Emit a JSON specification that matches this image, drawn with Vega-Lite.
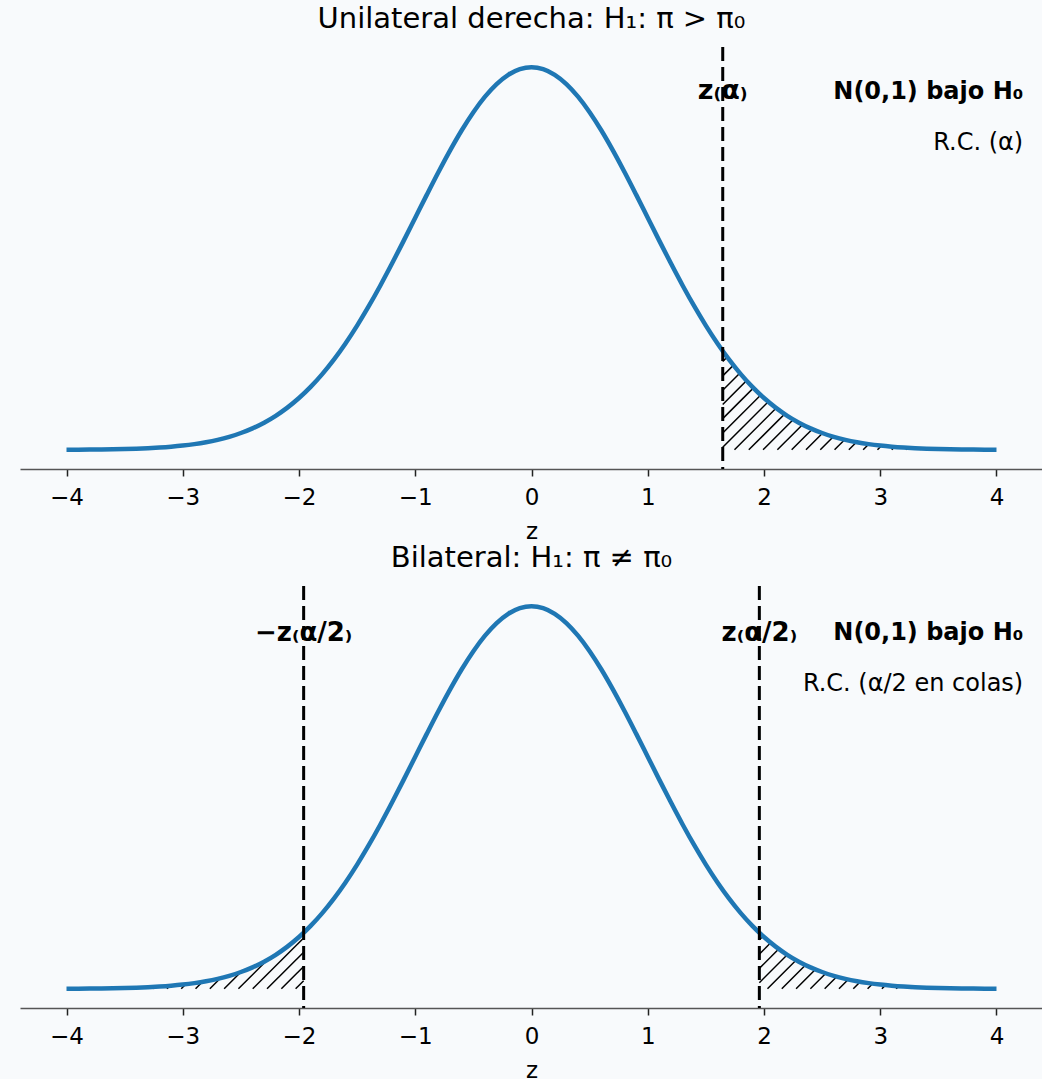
{
  "$schema": "https://vega.github.io/schema/vega-lite/v6.json",
  "background": "#f8fafc",
  "padding": {"left": 20, "top": 4, "right": 0, "bottom": 0},
  "config": {
    "view": {"stroke": null},
    "font": "DejaVu Sans",
    "title": {"font": "DejaVu Sans", "fontSize": 29, "fontWeight": "normal", "color": "#000000", "anchor": "middle", "offset": 12},
    "axis": {"grid": false}
  },
  "spacing": 0,
  "datasets": {
    "curve": [
      {"x": -4.0, "y": 0.000134}, {"x": -3.9, "y": 0.000199}, {"x": -3.8, "y": 0.000292}, {"x": -3.7, "y": 0.000425}, {"x": -3.6, "y": 0.000612},
      {"x": -3.5, "y": 0.000873}, {"x": -3.4, "y": 0.001232}, {"x": -3.3, "y": 0.001723}, {"x": -3.2, "y": 0.002384}, {"x": -3.1, "y": 0.003267},
      {"x": -3.0, "y": 0.004432}, {"x": -2.9, "y": 0.005953}, {"x": -2.8, "y": 0.007915}, {"x": -2.7, "y": 0.010421}, {"x": -2.6, "y": 0.013583},
      {"x": -2.5, "y": 0.017528}, {"x": -2.4, "y": 0.022395}, {"x": -2.3, "y": 0.028327}, {"x": -2.2, "y": 0.035475}, {"x": -2.1, "y": 0.043984},
      {"x": -2.0, "y": 0.053991}, {"x": -1.9, "y": 0.065616}, {"x": -1.8, "y": 0.07895}, {"x": -1.7, "y": 0.094049}, {"x": -1.6, "y": 0.110921},
      {"x": -1.5, "y": 0.129518}, {"x": -1.4, "y": 0.149727}, {"x": -1.3, "y": 0.171369}, {"x": -1.2, "y": 0.194186}, {"x": -1.1, "y": 0.217852},
      {"x": -1.0, "y": 0.241971}, {"x": -0.9, "y": 0.266085}, {"x": -0.8, "y": 0.289692}, {"x": -0.7, "y": 0.312254}, {"x": -0.6, "y": 0.333225},
      {"x": -0.5, "y": 0.352065}, {"x": -0.4, "y": 0.36827}, {"x": -0.3, "y": 0.381388}, {"x": -0.2, "y": 0.391043}, {"x": -0.1, "y": 0.396953},
      {"x": 0.0, "y": 0.398942},
      {"x": 0.1, "y": 0.396953}, {"x": 0.2, "y": 0.391043}, {"x": 0.3, "y": 0.381388}, {"x": 0.4, "y": 0.36827}, {"x": 0.5, "y": 0.352065},
      {"x": 0.6, "y": 0.333225}, {"x": 0.7, "y": 0.312254}, {"x": 0.8, "y": 0.289692}, {"x": 0.9, "y": 0.266085}, {"x": 1.0, "y": 0.241971},
      {"x": 1.1, "y": 0.217852}, {"x": 1.2, "y": 0.194186}, {"x": 1.3, "y": 0.171369}, {"x": 1.4, "y": 0.149727}, {"x": 1.5, "y": 0.129518},
      {"x": 1.6, "y": 0.110921}, {"x": 1.7, "y": 0.094049}, {"x": 1.8, "y": 0.07895}, {"x": 1.9, "y": 0.065616}, {"x": 2.0, "y": 0.053991},
      {"x": 2.1, "y": 0.043984}, {"x": 2.2, "y": 0.035475}, {"x": 2.3, "y": 0.028327}, {"x": 2.4, "y": 0.022395}, {"x": 2.5, "y": 0.017528},
      {"x": 2.6, "y": 0.013583}, {"x": 2.7, "y": 0.010421}, {"x": 2.8, "y": 0.007915}, {"x": 2.9, "y": 0.005953}, {"x": 3.0, "y": 0.004432},
      {"x": 3.1, "y": 0.003267}, {"x": 3.2, "y": 0.002384}, {"x": 3.3, "y": 0.001723}, {"x": 3.4, "y": 0.001232}, {"x": 3.5, "y": 0.000873},
      {"x": 3.6, "y": 0.000612}, {"x": 3.7, "y": 0.000425}, {"x": 3.8, "y": 0.000292}, {"x": 3.9, "y": 0.000199}, {"x": 4.0, "y": 0.000134}
    ],
    "mask": [
      {"g": "top", "x": 1.645, "y": 0.10314}, {"g": "top", "x": 1.7, "y": 0.094049}, {"g": "top", "x": 1.8, "y": 0.07895}, {"g": "top", "x": 1.9, "y": 0.065616},
      {"g": "top", "x": 2.0, "y": 0.053991}, {"g": "top", "x": 2.1, "y": 0.043984}, {"g": "top", "x": 2.2, "y": 0.035475}, {"g": "top", "x": 2.3, "y": 0.028327},
      {"g": "top", "x": 2.4, "y": 0.022395}, {"g": "top", "x": 2.5, "y": 0.017528}, {"g": "top", "x": 2.6, "y": 0.013583}, {"g": "top", "x": 2.7, "y": 0.010421},
      {"g": "top", "x": 2.8, "y": 0.007915}, {"g": "top", "x": 2.9, "y": 0.005953}, {"g": "top", "x": 3.0, "y": 0.004432}, {"g": "top", "x": 3.1, "y": 0.003267},
      {"g": "top", "x": 3.2, "y": 0.002384}, {"g": "top", "x": 3.3, "y": 0.001723}, {"g": "top", "x": 3.4, "y": 0.001232}, {"g": "top", "x": 3.5, "y": 0.000873},
      {"g": "top", "x": 3.6, "y": 0.000612}, {"g": "top", "x": 3.7, "y": 0.000425}, {"g": "top", "x": 3.8, "y": 0.000292}, {"g": "top", "x": 3.9, "y": 0.000199},
      {"g": "top", "x": 4.0, "y": 0.000134}, {"g": "top", "x": 4.2, "y": 0.000059}, {"g": "top", "x": 4.4, "y": 0.000025},
      {"g": "right", "x": 1.96, "y": 0.05844}, {"g": "right", "x": 2.0, "y": 0.053991}, {"g": "right", "x": 2.1, "y": 0.043984}, {"g": "right", "x": 2.2, "y": 0.035475},
      {"g": "right", "x": 2.3, "y": 0.028327}, {"g": "right", "x": 2.4, "y": 0.022395}, {"g": "right", "x": 2.5, "y": 0.017528}, {"g": "right", "x": 2.6, "y": 0.013583},
      {"g": "right", "x": 2.7, "y": 0.010421}, {"g": "right", "x": 2.8, "y": 0.007915}, {"g": "right", "x": 2.9, "y": 0.005953}, {"g": "right", "x": 3.0, "y": 0.004432},
      {"g": "right", "x": 3.1, "y": 0.003267}, {"g": "right", "x": 3.2, "y": 0.002384}, {"g": "right", "x": 3.3, "y": 0.001723}, {"g": "right", "x": 3.4, "y": 0.001232},
      {"g": "right", "x": 3.5, "y": 0.000873}, {"g": "right", "x": 3.6, "y": 0.000612}, {"g": "right", "x": 3.7, "y": 0.000425}, {"g": "right", "x": 3.8, "y": 0.000292},
      {"g": "right", "x": 3.9, "y": 0.000199}, {"g": "right", "x": 4.0, "y": 0.000134}, {"g": "right", "x": 4.2, "y": 0.000059}, {"g": "right", "x": 4.4, "y": 0.000025},
      {"g": "left", "x": -4.4, "y": 0.000025}, {"g": "left", "x": -4.2, "y": 0.000059}, {"g": "left", "x": -4.0, "y": 0.000134}, {"g": "left", "x": -3.9, "y": 0.000199},
      {"g": "left", "x": -3.8, "y": 0.000292}, {"g": "left", "x": -3.7, "y": 0.000425}, {"g": "left", "x": -3.6, "y": 0.000612}, {"g": "left", "x": -3.5, "y": 0.000873},
      {"g": "left", "x": -3.4, "y": 0.001232}, {"g": "left", "x": -3.3, "y": 0.001723}, {"g": "left", "x": -3.2, "y": 0.002384}, {"g": "left", "x": -3.1, "y": 0.003267},
      {"g": "left", "x": -3.0, "y": 0.004432}, {"g": "left", "x": -2.9, "y": 0.005953}, {"g": "left", "x": -2.8, "y": 0.007915}, {"g": "left", "x": -2.7, "y": 0.010421},
      {"g": "left", "x": -2.6, "y": 0.013583}, {"g": "left", "x": -2.5, "y": 0.017528}, {"g": "left", "x": -2.4, "y": 0.022395}, {"g": "left", "x": -2.3, "y": 0.028327},
      {"g": "left", "x": -2.2, "y": 0.035475}, {"g": "left", "x": -2.1, "y": 0.043984}, {"g": "left", "x": -2.0, "y": 0.053991}, {"g": "left", "x": -1.96, "y": 0.05844}
    ],
    "hatch": [
      {"g": "top", "x": 1.645, "y": 0.092, "x2": 1.736, "y2": 0.1031},
      {"g": "top", "x": 1.645, "y": 0.0771, "x2": 1.859, "y2": 0.1031},
      {"g": "top", "x": 1.645, "y": 0.0622, "x2": 1.982, "y2": 0.1031},
      {"g": "top", "x": 1.645, "y": 0.0473, "x2": 2.105, "y2": 0.1031},
      {"g": "top", "x": 1.645, "y": 0.0325, "x2": 2.228, "y2": 0.1031},
      {"g": "top", "x": 1.645, "y": 0.0176, "x2": 2.351, "y2": 0.1031},
      {"g": "top", "x": 1.645, "y": 0.0027, "x2": 2.474, "y2": 0.1031},
      {"g": "top", "x": 1.746, "y": 0, "x2": 2.597, "y2": 0.1031},
      {"g": "top", "x": 1.869, "y": 0, "x2": 2.72, "y2": 0.1031},
      {"g": "top", "x": 1.992, "y": 0, "x2": 2.843, "y2": 0.1031},
      {"g": "top", "x": 2.115, "y": 0, "x2": 2.966, "y2": 0.1031},
      {"g": "top", "x": 2.238, "y": 0, "x2": 3.089, "y2": 0.1031},
      {"g": "top", "x": 2.361, "y": 0, "x2": 3.212, "y2": 0.1031},
      {"g": "top", "x": 2.484, "y": 0, "x2": 3.335, "y2": 0.1031},
      {"g": "top", "x": 2.607, "y": 0, "x2": 3.458, "y2": 0.1031},
      {"g": "top", "x": 2.73, "y": 0, "x2": 3.581, "y2": 0.1031},
      {"g": "top", "x": 2.853, "y": 0, "x2": 3.704, "y2": 0.1031},
      {"g": "top", "x": 2.976, "y": 0, "x2": 3.827, "y2": 0.1031},
      {"g": "top", "x": 3.099, "y": 0, "x2": 3.95, "y2": 0.1031},
      {"g": "top", "x": 3.222, "y": 0, "x2": 4.073, "y2": 0.1031},
      {"g": "top", "x": 3.345, "y": 0, "x2": 4.196, "y2": 0.1031},
      {"g": "bottom", "x": -3.382, "y": 0, "x2": -2.9, "y2": 0.0584},
      {"g": "bottom", "x": -3.259, "y": 0, "x2": -2.777, "y2": 0.0584},
      {"g": "bottom", "x": -3.136, "y": 0, "x2": -2.654, "y2": 0.0584},
      {"g": "bottom", "x": -3.013, "y": 0, "x2": -2.531, "y2": 0.0584},
      {"g": "bottom", "x": -2.89, "y": 0, "x2": -2.408, "y2": 0.0584},
      {"g": "bottom", "x": -2.767, "y": 0, "x2": -2.285, "y2": 0.0584},
      {"g": "bottom", "x": -2.644, "y": 0, "x2": -2.162, "y2": 0.0584},
      {"g": "bottom", "x": -2.521, "y": 0, "x2": -2.039, "y2": 0.0584},
      {"g": "bottom", "x": -2.398, "y": 0, "x2": -1.96, "y2": 0.053},
      {"g": "bottom", "x": -2.275, "y": 0, "x2": -1.96, "y2": 0.0381},
      {"g": "bottom", "x": -2.152, "y": 0, "x2": -1.96, "y2": 0.0233},
      {"g": "bottom", "x": -2.029, "y": 0, "x2": -1.96, "y2": 0.0084},
      {"g": "bottom", "x": 1.96, "y": 0.0511, "x2": 2.02, "y2": 0.0584},
      {"g": "bottom", "x": 1.96, "y": 0.0362, "x2": 2.143, "y2": 0.0584},
      {"g": "bottom", "x": 1.96, "y": 0.0213, "x2": 2.266, "y2": 0.0584},
      {"g": "bottom", "x": 1.96, "y": 0.0064, "x2": 2.389, "y2": 0.0584},
      {"g": "bottom", "x": 2.03, "y": 0, "x2": 2.512, "y2": 0.0584},
      {"g": "bottom", "x": 2.153, "y": 0, "x2": 2.635, "y2": 0.0584},
      {"g": "bottom", "x": 2.276, "y": 0, "x2": 2.758, "y2": 0.0584},
      {"g": "bottom", "x": 2.399, "y": 0, "x2": 2.881, "y2": 0.0584},
      {"g": "bottom", "x": 2.522, "y": 0, "x2": 3.004, "y2": 0.0584},
      {"g": "bottom", "x": 2.645, "y": 0, "x2": 3.127, "y2": 0.0584},
      {"g": "bottom", "x": 2.768, "y": 0, "x2": 3.25, "y2": 0.0584},
      {"g": "bottom", "x": 2.891, "y": 0, "x2": 3.373, "y2": 0.0584},
      {"g": "bottom", "x": 3.014, "y": 0, "x2": 3.496, "y2": 0.0584},
      {"g": "bottom", "x": 3.137, "y": 0, "x2": 3.619, "y2": 0.0584},
      {"g": "bottom", "x": 3.26, "y": 0, "x2": 3.742, "y2": 0.0584}
    ]
  },
  "vconcat": [
    {
      "title": {"text": "Unilateral derecha: H₁: π > π₀"},
      "width": 1023,
      "height": 422,
      "encoding": {
        "x": {"type": "quantitative", "scale": {"domain": [-4.4, 4.4], "nice": false, "zero": false},
          "axis": {"values": [-4, -3, -2, -1, 0, 1, 2, 3, 4], "title": "z", "titleFont": "DejaVu Sans", "titleFontSize": 23, "titleFontWeight": "normal", "titleColor": "#000000", "titlePadding": 11,
            "labelFont": "DejaVu Sans", "labelFontSize": 23, "labelColor": "#000000", "labelPadding": 10, "tickSize": 7, "tickColor": "#222222", "tickWidth": 1.5, "domainColor": "#555555", "domainWidth": 1.5}},
        "y": {"type": "quantitative", "scale": {"domain": [-0.02, 0.42], "nice": false, "zero": false}, "axis": null}
      },
      "layer": [
        {
          "data": {"name": "hatch"},
          "transform": [{"filter": "datum.g === 'top'"}],
          "mark": {"type": "rule", "color": "#000000", "strokeWidth": 1.5},
          "encoding": {"x": {"field": "x"}, "y": {"field": "y"}, "x2": {"field": "x2"}, "y2": {"field": "y2"}}
        },
        {
          "data": {"name": "mask"},
          "transform": [{"filter": "datum.g === 'top'"}],
          "mark": {"type": "area", "color": "#f8fafc", "interpolate": "monotone", "opacity": 1},
          "encoding": {"x": {"field": "x"}, "y": {"field": "y"}, "y2": {"datum": 0.107}}
        },
        {
          "data": {"name": "curve"},
          "mark": {"type": "line", "color": "#1f77b4", "strokeWidth": 4.5, "interpolate": "monotone"},
          "encoding": {"x": {"field": "x"}, "y": {"field": "y"}}
        },
        {
          "data": {"values": [{}]},
          "mark": {"type": "rule", "color": "#000000", "strokeWidth": 3, "strokeDash": [14, 6]},
          "encoding": {"x": {"datum": 1.645}}
        },
        {
          "data": {"values": [{}]},
          "mark": {"type": "text", "font": "DejaVu Sans", "fontSize": 27, "fontWeight": "bold", "align": "center", "baseline": "middle", "color": "#000000"},
          "encoding": {"x": {"datum": 1.645}, "y": {"datum": 0.374}, "text": {"value": "z₍α₎"}}
        },
        {
          "data": {"values": [{}]},
          "mark": {"type": "text", "font": "DejaVu Sans", "fontSize": 24, "fontWeight": "bold", "align": "right", "baseline": "middle", "color": "#000000"},
          "encoding": {"x": {"datum": 4.23}, "y": {"datum": 0.373}, "text": {"value": "N(0,1) bajo H₀"}}
        },
        {
          "data": {"values": [{}]},
          "mark": {"type": "text", "font": "DejaVu Sans", "fontSize": 24, "fontWeight": "normal", "align": "right", "baseline": "middle", "color": "#000000"},
          "encoding": {"x": {"datum": 4.23}, "y": {"datum": 0.32}, "text": {"value": "R.C. (α)"}}
        }
      ]
    },
    {
      "title": {"text": "Bilateral: H₁: π ≠ π₀"},
      "width": 1023,
      "height": 422,
      "encoding": {
        "x": {"type": "quantitative", "scale": {"domain": [-4.4, 4.4], "nice": false, "zero": false},
          "axis": {"values": [-4, -3, -2, -1, 0, 1, 2, 3, 4], "title": "z", "titleFont": "DejaVu Sans", "titleFontSize": 23, "titleFontWeight": "normal", "titleColor": "#000000", "titlePadding": 11,
            "labelFont": "DejaVu Sans", "labelFontSize": 23, "labelColor": "#000000", "labelPadding": 10, "tickSize": 7, "tickColor": "#222222", "tickWidth": 1.5, "domainColor": "#555555", "domainWidth": 1.5}},
        "y": {"type": "quantitative", "scale": {"domain": [-0.02, 0.42], "nice": false, "zero": false}, "axis": null}
      },
      "layer": [
        {
          "data": {"name": "hatch"},
          "transform": [{"filter": "datum.g === 'bottom'"}],
          "mark": {"type": "rule", "color": "#000000", "strokeWidth": 1.5},
          "encoding": {"x": {"field": "x"}, "y": {"field": "y"}, "x2": {"field": "x2"}, "y2": {"field": "y2"}}
        },
        {
          "data": {"name": "mask"},
          "transform": [{"filter": "datum.g !== 'top'"}],
          "mark": {"type": "area", "color": "#f8fafc", "interpolate": "monotone", "opacity": 1},
          "encoding": {"x": {"field": "x"}, "y": {"field": "y"}, "y2": {"datum": 0.062}, "detail": {"field": "g"}}
        },
        {
          "data": {"name": "curve"},
          "mark": {"type": "line", "color": "#1f77b4", "strokeWidth": 4.5, "interpolate": "monotone"},
          "encoding": {"x": {"field": "x"}, "y": {"field": "y"}}
        },
        {
          "data": {"values": [{"v": -1.96}, {"v": 1.96}]},
          "mark": {"type": "rule", "color": "#000000", "strokeWidth": 3, "strokeDash": [14, 6]},
          "encoding": {"x": {"field": "v"}}
        },
        {
          "data": {"values": [{}]},
          "mark": {"type": "text", "font": "DejaVu Sans", "fontSize": 26, "fontWeight": "bold", "align": "center", "baseline": "middle", "color": "#000000"},
          "encoding": {"x": {"datum": -1.96}, "y": {"datum": 0.371}, "text": {"value": "−z₍α/2₎"}}
        },
        {
          "data": {"values": [{}]},
          "mark": {"type": "text", "font": "DejaVu Sans", "fontSize": 26, "fontWeight": "bold", "align": "center", "baseline": "middle", "color": "#000000"},
          "encoding": {"x": {"datum": 1.96}, "y": {"datum": 0.371}, "text": {"value": "z₍α/2₎"}}
        },
        {
          "data": {"values": [{}]},
          "mark": {"type": "text", "font": "DejaVu Sans", "fontSize": 24, "fontWeight": "bold", "align": "right", "baseline": "middle", "color": "#000000"},
          "encoding": {"x": {"datum": 4.23}, "y": {"datum": 0.371}, "text": {"value": "N(0,1) bajo H₀"}}
        },
        {
          "data": {"values": [{}]},
          "mark": {"type": "text", "font": "DejaVu Sans", "fontSize": 24, "fontWeight": "normal", "align": "right", "baseline": "middle", "color": "#000000"},
          "encoding": {"x": {"datum": 4.23}, "y": {"datum": 0.318}, "text": {"value": "R.C. (α/2 en colas)"}}
        }
      ]
    }
  ]
}
